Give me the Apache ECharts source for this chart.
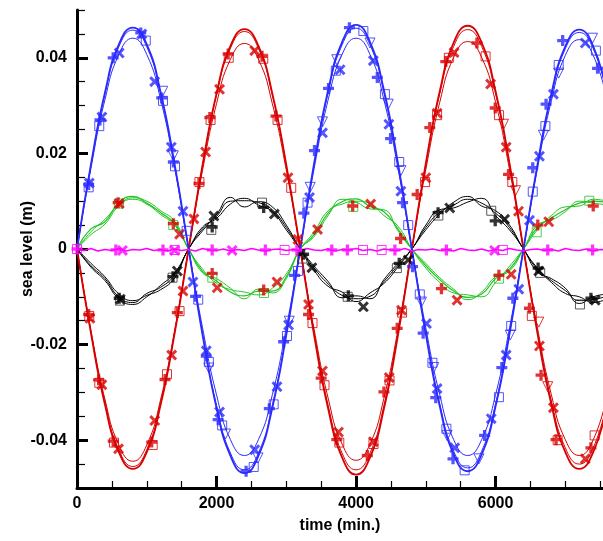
<!DOCTYPE html>
<html><head><meta charset="utf-8">
<script src="https://cdn.jsdelivr.net/npm/echarts@6/dist/echarts.min.js"></script>
<style>html,body{margin:0;padding:0;background:#fff}#c{width:603px;height:541px}</style>
</head><body><div id="c"></div>
<script>
// ---- time grids (minutes) ----
const TIME = [0,200,400,600,800,1000,1200,1400,1600,1800,2000,2200,2400,2600,2800,3000,3200,3400,3600,3800,
  4000,4200,4400,4600,4800,5000,5200,5400,5600,5800,6000,6200,6400,6600,6800,7000,7200,7400,7600];
const TIME_FINE = [0,100,200,300,400,500,600,700,800,900,1000,
  1100,1200,1300,1400,1500,1600,1700,1800,1900,2000,2100,
  2200,2300,2400,2500,2600,2700,2800,2900,3000,3100,3200,
  3300,3400,3500,3600,3700,3800,3900,4000,4100,4200,4300,
  4400,4500,4600,4700,4800,4900,5000,5100,5200,5300,5400,
  5500,5600,5700,5800,5900,6000,6100,6200,6300,6400,6500,
  6600,6700,6800,6900,7000,7100,7200,7300,7400,7500,7600];

// ---- blue curves ----
const BLUE_1 = [0,.0177,.0327,.0428,.0463,.0428,.0327,.0177, 0,-.0180,-.0332,-.0433,-.0469,-.0433,-.0332,-.0180,
  0,.0180,.0332,.0433,.0469,.0433,.0332,.0180, 0,-.0178,-.0329,-.0430,-.0465,-.0430,-.0329,-.0178, 0,.0176,.0325,.0424,.0459,.0424,.0325];
const BLUE_2 = [0,.0169,.0312,.0407,.0441,.0407,.0312,.0169, 0,-.0165,-.0305,-.0399,-.0432,-.0399,-.0305,-.0165,
  0,.0169,.0312,.0407,.0441,.0407,.0312,.0169, 0,-.0165,-.0305,-.0399,-.0432,-.0399,-.0305,-.0165, 0,.0168,.0310,.0405,.0438,.0405,.0310];
const BLUE_3 = [0,.0175,.0324,.0423,.0458,.0423,.0324,.0175, 0,-.0177,-.0327,-.0427,-.0462,-.0427,-.0327,-.0177,
  0,.0177,.0327,.0427,.0462,.0427,.0327,.0177, 0,-.0175,-.0324,-.0423,-.0458,-.0423,-.0324,-.0175, 0,.0173,.0320,.0419,.0453,.0419,.0320];
// ---- red curves ----
const RED_1 = [0,-.0176,-.0325,-.0425,-.0460,-.0425,-.0325,-.0176, 0,.0176,.0325,.0425,.0460,.0425,.0325,.0176,
  0,-.0181,-.0334,-.0436,-.0472,-.0436,-.0334,-.0181, 0,.0179,.0330,.0432,.0467,.0432,.0330,.0179, 0,-.0176,-.0325,-.0425,-.0460,-.0425,-.0325];
const RED_2 = [0,-.0170,-.0314,-.0410,-.0444,-.0410,-.0314,-.0170, 0,.0165,.0304,.0397,.0430,.0397,.0304,.0165,
  0,-.0169,-.0312,-.0408,-.0442,-.0408,-.0312,-.0169, 0,.0166,.0307,.0401,.0434,.0401,.0307,.0166, 0,-.0165,-.0305,-.0399,-.0432,-.0399,-.0305];
const RED_3 = [0,-.0174,-.0322,-.0420,-.0455,-.0420,-.0322,-.0174, 0,.0174,.0322,.0420,.0455,.0420,.0322,.0174,
  0,-.0177,-.0327,-.0427,-.0462,-.0427,-.0327,-.0177, 0,.0176,.0325,.0424,.0459,.0424,.0325,.0176, 0,-.0172,-.0318,-.0416,-.0450,-.0416,-.0318];
// ---- black curves ----
const BLACK_1 = [0,-.0035,-.0062,-.0100,-.0112,-.0093,-.0080,-.0054, 0,.0042,.0068,.0100,.0101,.0097,.0082,.0045,
  0,-.0040,-.0073,-.0097,-.0104,-.0099,-.0068,-.0034, 0,.0045,.0077,.0092,.0104,.0096,.0075,.0045, 0,-.0043,-.0066,-.0087,-.0108,-.0106,-.0098];
const BLACK_2 = [0,-.0030,-.0058,-.0094,-.0108,-.0097,-.0085,-.0060, 0,.0038,.0072,.0108,.0088,.0099,.0088,.0050,
  0,-.0045,-.0078,-.0090,-.0110,-.0092,-.0072,-.0038, 0,.0040,.0073,.0098,.0110,.0090,.0080,.0050, 0,-.0040,-.0070,-.0093,-.0100,-.0112,-.0104];
const BLACK_3 = [0,-.0038,-.0066,-.0104,-.0116,-.0100,-.0076,-.0050, 0,.0046,.0064,.0094,.0106,.0092,.0078,.0040,
  0,-.0036,-.0068,-.0102,-.0098,-.0104,-.0064,-.0030, 0,.0050,.0082,.0086,.0098,.0106,.0070,.0040, 0,-.0048,-.0062,-.0082,-.0114,-.0100,-.0094];
// ---- green curves ----
const GREEN_1 = [0,.0042,.0057,.0097,.0110,.0096,.0076,.0053, 0,-.0047,-.0067,-.0090,-.0098,-.0088,-.0088,-.0058,
  0,.0030,.0075,.0099,.0105,.0089,.0078,.0042, 0,-.0035,-.0064,-.0088,-.0101,-.0094,-.0062,-.0042, 0,.0045,.0065,.0082,.0096,.0100,.0097];
const GREEN_2 = [0,.0036,.0062,.0092,.0107,.0100,.0080,.0058, 0,-.0042,-.0072,-.0085,-.0090,-.0096,-.0082,-.0052,
  0,.0036,.0080,.0094,.0100,.0095,.0070,.0048, 0,-.0040,-.0070,-.0092,-.0096,-.0100,-.0070,-.0036, 0,.0040,.0070,.0088,.0090,.0104,.0100];
const GREEN_3 = [0,.0030,.0052,.0090,.0104,.0094,.0072,.0050, 0,-.0050,-.0062,-.0082,-.0104,-.0084,-.0092,-.0062,
  0,.0026,.0070,.0104,.0098,.0084,.0082,.0038, 0,-.0030,-.0060,-.0084,-.0106,-.0090,-.0058,-.0046, 0,.0050,.0060,.0078,.0100,.0096,.0092];
// ---- magenta curve ----
const MAGENTA = [0.0000,-0.0003,0.0001,-0.0004,-0.0001,-0.0003,0.0001,-0.0004,-0.0001,-0.0002,0.0001,
  -0.0003,-0.0001,-0.0004,0.0000,-0.0003,-0.0001,-0.0004,0.0001,-0.0002,-0.0003,0.0000,
  -0.0004,-0.0001,-0.0003,0.0001,-0.0002,-0.0004,-0.0001,0.0000,-0.0003,-0.0001,-0.0004,
  0.0001,-0.0002,-0.0003,0.0000,-0.0004,-0.0001,-0.0002,0.0001,-0.0003,-0.0001,-0.0004,
  0.0000,-0.0002,-0.0003,0.0001,-0.0004,-0.0001,-0.0002,0.0000,-0.0003,-0.0001,-0.0004,
  0.0001,-0.0002,-0.0003,0.0000,-0.0004,-0.0001,-0.0003,0.0001,-0.0002,-0.0004,-0.0001,
  0.0000,-0.0003,-0.0001,-0.0004,0.0001,-0.0002,-0.0003,0.0000,-0.0004,-0.0001,-0.0002];

// ---- markers ----
const BLUE_PLUS_T = [167,329,519,914,1214,1381,1700,1853,2024,2424,2757,2962,3119,3252,3405,3605,3905,4305,4495,4667,4810,4962,5143,5390,5843,6090,6248,6533,6724,6962,7462];
const BLUE_PLUS_V = [0.0135,0.0270,0.0400,0.0452,0.0316,0.0182,-0.0099,-0.0224,-0.0357,-0.0465,-0.0334,-0.0194,-0.0055,0.0075,0.0206,0.0336,0.0463,0.0359,0.0231,0.0097,-0.0037,-0.0176,-0.0311,-0.0439,-0.0390,-0.0248,-0.0103,0.0170,0.0303,0.0436,0.0378];
const BLUE_X_T = [176,357,605,929,1114,1352,1519,1662,1853,2043,2548,2867,3033,3333,3519,3771,4248,4471,4643,5010,5162,5414,5938,6152,6333,6486,6629,6829,7286];
const BLUE_X_V = [0.0138,0.0276,0.0410,0.0450,0.0350,0.0213,0.0079,-0.0069,-0.0213,-0.0341,-0.0420,-0.0288,-0.0159,0.0108,0.0243,0.0375,0.0394,0.0261,0.0121,-0.0156,-0.0292,-0.0416,-0.0355,-0.0222,-0.0084,0.0060,0.0194,0.0324,0.0431];
const BLUE_SQ_T = [167,319,986,1233,1405,1571,1738,1890,2081,2533,2819,3010,3167,3305,3710,4105,4414,4619,4748,4914,5095,5295,5557,6048,6224,6533,6714,6905,7438];
const BLUE_SQ_V = [0.0129,0.0257,0.0436,0.0310,0.0173,0.0038,-0.0106,-0.0236,-0.0369,-0.0456,-0.0325,-0.0182,-0.0046,0.0097,0.0373,0.0456,0.0324,0.0182,0.0050,-0.0095,-0.0238,-0.0376,-0.0463,-0.0310,-0.0161,0.0120,0.0257,0.0385,0.0415];
const BLUE_TRI_T = [1229,1381,1890,2129,2595,3043,3343,3519,3724,4200,4462,4643,4938,5114,5305,5762,6210,6686,6905,7390];
const BLUE_TRI_V = [0.0330,0.0195,-0.0249,-0.0387,-0.0437,-0.0151,0.0129,0.0266,0.0396,0.0431,0.0303,0.0164,-0.0111,-0.0248,-0.0390,-0.0439,-0.0180,0.0238,0.0368,0.0441];

const RED_PLUS_T = [167,310,519,590,1071,1262,1381,1438,1748,1905,1938,2167,2652,2676,2852,3319,3500,3724,3952,4162,4400,4590,4638,4876,5057,5224,5286,5733,5995,6048,6186,6486,6605,6652,6867,7367,7400];
const RED_PLUS_V = [-0.0137,-0.0274,-0.0402,0.0097,-0.0404,-0.0273,0.0053,-0.0133,0.0137,0.0275,-0.0051,0.0408,0.0403,-0.0086,0.0278,-0.0137,-0.0270,-0.0399,0.0090,-0.0432,-0.0299,-0.0166,0.0022,0.0114,0.0254,-0.0083,0.0392,0.0431,0.0295,-0.0055,0.0156,-0.0124,0.0050,-0.0264,-0.0399,-0.0416,0.0090];
const RED_X_T = [186,357,595,605,1114,1357,1471,1519,1676,1843,2010,2043,2548,2867,3024,3167,3319,3448,3519,3748,4210,4248,4476,4652,5000,5162,5405,5448,5929,6152,6224,6329,6629,6762,6829,7286];
const RED_X_V = [-0.0145,-0.0284,-0.0418,0.0095,-0.0359,-0.0222,0.0031,-0.0088,0.0063,0.0203,-0.0081,0.0334,0.0415,-0.0069,0.0149,0.0020,-0.0116,0.0041,-0.0255,-0.0383,0.0094,-0.0403,-0.0269,-0.0128,0.0149,0.0284,0.0411,-0.0107,0.0345,0.0213,-0.0053,0.0079,-0.0203,0.0057,-0.0332,-0.0439];
const RED_SQ_T = [176,320,530,1085,1290,1470,1755,1915,2175,2670,2875,3071,3376,3548,3760,4250,4480,4660,4990,5162,5330,5857,6050,6240,6520,6890,7420];
const RED_SQ_V = [-0.0140,-0.0280,-0.0405,-0.0410,-0.0262,-0.0130,0.0140,0.0270,0.0400,0.0398,0.0270,0.0128,-0.0155,-0.0285,-0.0405,-0.0408,-0.0275,-0.0133,0.0140,0.0280,0.0400,0.0403,0.0280,0.0140,-0.0140,-0.0400,-0.0390];
const RED_TRI_T = [6114,6286,6619,6748];
const RED_TRI_V = [0.0261,0.0122,-0.0153,-0.0288];

const GREEN_SQ_T = [600,1380,1940,2680,3960,6050,6590,7343];
const GREEN_SQ_V = [0.0095,0.0050,-0.0060,-0.0092,0.0088,-0.0062,0.0035,0.0101];

const BLACK_PLUS_T = [605,1376,1938,2676,3248,3890,4619,5176,5995,6610,7367];
const BLACK_PLUS_V = [-0.0103,-0.0058,0.0046,0.0087,-0.0011,-0.0098,-0.0030,0.0076,0.0059,-0.0040,-0.0103];
const BLACK_X_T = [620,1438,1962,2829,3367,4105,4748,5343,6129,6619,7429];
const BLACK_X_V = [-0.0105,-0.0046,0.0069,0.0073,-0.0039,-0.0121,-0.0023,0.0086,0.0062,-0.0046,-0.0107];
const BLACK_SQ_T = [615,1370,1925,2652,3230,3880,4585,5180,5938,6640,7210];
const BLACK_SQ_V = [-0.0108,-0.0060,0.0040,0.0097,-0.0020,-0.0100,-0.0040,0.0070,0.0080,-0.0050,-0.0116];

const MAG_PLUS_T = [0,557,1233,1938,2700,3152,3652,3876,4557,5295,6748,7390];
const MAG_PLUS_V = [0,-0.0002,-0.0002,-0.0002,-0.0002,-0.0002,-0.0002,-0.0002,-0.0002,-0.0002,-0.0002,-0.0002];
const MAG_X_T = [652,1400,2224,5986];
const MAG_X_V = [-0.0003,-0.0003,-0.0003,-0.0003];
const MAG_SQ_T = [0,1400,2976,4100,4367,6105];
const MAG_SQ_V = [0,-0.0002,-0.0002,-0.0002,-0.0002,-0.0002];

// ---- ticks / labels ----
const X_MAJOR = [0, 2000, 4000, 6000];
const Y_MAJOR = [-0.04, -0.02, 0, 0.02, 0.04];

// ---------------- drawing ----------------
const C_BLUE = '#2b2bff', C_RED = '#d80000', C_GREEN = '#22c422', C_BLACK = '#000000', C_MAG = '#ff00ff';
const FONT = 'Liberation Sans';
const PLUS = 'path://M3.5,0H6.5V3.5H10V6.5H6.5V10H3.5V6.5H0V3.5H3.5Z';
const CROSS = 'path://M0,1.9L1.9,0L5,3.1L8.1,0L10,1.9L6.9,5L10,8.1L8.1,10L5,6.9L1.9,10L0,8.1L3.1,5Z';

function pairs(t, v) { return t.map((x, i) => [x, v[i]]); }
function line(t, v, color, w) {
  return { type: 'line', xAxisIndex: 0, yAxisIndex: 0, data: pairs(t, v), showSymbol: false, smooth: true,
    lineStyle: { color: color, width: w }, silent: true, animation: false };
}
function mark(t, v, color, kind) {
  const s = { type: 'scatter', xAxisIndex: 0, yAxisIndex: 0, data: pairs(t, v), silent: true, animation: false, z: 5 };
  if (kind === 'plus') { s.symbol = PLUS; s.symbolSize = 11; s.itemStyle = { color: color }; }
  else if (kind === 'x') { s.symbol = CROSS; s.symbolSize = 11; s.itemStyle = { color: color }; }
  else if (kind === 'sq') { s.symbol = 'rect'; s.symbolSize = 9; s.itemStyle = { color: 'rgba(0,0,0,0)', borderColor: color, borderWidth: 1 }; }
  else { s.symbol = 'triangle'; s.symbolRotate = 180; s.symbolSize = 10; s.itemStyle = { color: 'rgba(0,0,0,0)', borderColor: color, borderWidth: 1 }; }
  return s;
}

const PX_PER_MIN = 526 / 7540;
const labelStyle = { fontSize: 16, fontWeight: 'bold', color: '#000', fontFamily: FONT };

const option = {
  backgroundColor: '#fff',
  animation: false,
  grid: [
    { left: 77, top: 10, width: 526, height: 478 },
    { left: 77, top: 10 + 478 * 0.01 / 0.1, width: 526, height: 478 * 0.08 / 0.1 },
    { left: 77, top: 10, width: 7500 * PX_PER_MIN, height: 478 },
    { left: 77, top: 10, width: X_MAJOR[X_MAJOR.length - 1] * PX_PER_MIN, height: 478 }
  ],
  xAxis: [
    { gridIndex: 0, type: 'value', min: 0, max: 7540, axisLine: { onZero: false, lineStyle: { color: '#000', width: 3 } },
      axisTick: { show: false }, axisLabel: { show: false }, splitLine: { show: false },
      name: 'time (min.)', nameLocation: 'middle', nameGap: 30, nameTextStyle: labelStyle },
    { gridIndex: 1, type: 'value', min: 0, max: 1, show: false },
    { gridIndex: 2, type: 'value', min: 0, max: 7500, interval: 500, axisLine: { show: false, onZero: false },
      axisTick: { inside: true, length: 7, lineStyle: { color: '#000', width: 1.2 } }, axisLabel: { show: false }, splitLine: { show: false } },
    { gridIndex: 3, type: 'value', min: X_MAJOR[0], max: X_MAJOR[X_MAJOR.length - 1], interval: X_MAJOR[1] - X_MAJOR[0],
      axisLine: { show: false, onZero: false },
      axisTick: { inside: true, length: 12, lineStyle: { color: '#000', width: 3 } },
      axisLabel: Object.assign({ margin: 8, formatter: v => String(v) }, labelStyle), splitLine: { show: false } }
  ],
  yAxis: [
    { gridIndex: 0, type: 'value', min: -0.05, max: 0.05, interval: 0.005,
      axisLine: { onZero: false, lineStyle: { color: '#000', width: 3 } },
      axisTick: { inside: true, length: 8, lineStyle: { color: '#000', width: 1.2 } },
      axisLabel: { show: false }, splitLine: { show: false },
      name: 'sea level (m)', nameLocation: 'middle', nameGap: 41, nameRotate: 90, nameTextStyle: labelStyle },
    { gridIndex: 1, type: 'value', min: Y_MAJOR[0], max: Y_MAJOR[Y_MAJOR.length - 1], interval: Y_MAJOR[1] - Y_MAJOR[0],
      axisLine: { show: false, onZero: false },
      axisTick: { inside: true, length: 11, lineStyle: { color: '#000', width: 3 } },
      axisLabel: Object.assign({ margin: 10, formatter: v => String(Number(v.toFixed(4))) }, labelStyle),
      splitLine: { show: false } },
    { gridIndex: 2, type: 'value', min: 0, max: 1, show: false },
    { gridIndex: 3, type: 'value', min: 0, max: 1, show: false }
  ],
  series: [
    line(TIME, BLACK_1, C_BLACK, 1), line(TIME, BLACK_2, C_BLACK, 1), line(TIME, BLACK_3, C_BLACK, 1),
    line(TIME, GREEN_1, C_GREEN, 1.2), line(TIME, GREEN_2, C_GREEN, 1), line(TIME, GREEN_3, C_GREEN, 1),
    line(TIME, RED_2, C_RED, 1), line(TIME, RED_3, C_RED, 1), line(TIME, RED_1, C_RED, 1.8),
    line(TIME, BLUE_2, C_BLUE, 1), line(TIME, BLUE_3, C_BLUE, 1), line(TIME, BLUE_1, C_BLUE, 1.8),
    Object.assign(line(TIME_FINE, MAGENTA, C_MAG, 1.6), { smooth: false }),
    mark(GREEN_SQ_T, GREEN_SQ_V, C_GREEN, 'sq'),
    mark(BLACK_SQ_T, BLACK_SQ_V, '#333', 'sq'),
    mark(BLACK_PLUS_T, BLACK_PLUS_V, C_BLACK, 'plus'),
    mark(BLACK_X_T, BLACK_X_V, C_BLACK, 'x'),
    mark(RED_SQ_T, RED_SQ_V, C_RED, 'sq'),
    mark(RED_TRI_T, RED_TRI_V, C_RED, 'tri'),
    mark(RED_PLUS_T, RED_PLUS_V, C_RED, 'plus'),
    mark(RED_X_T, RED_X_V, C_RED, 'x'),
    mark(BLUE_SQ_T, BLUE_SQ_V, C_BLUE, 'sq'),
    mark(BLUE_TRI_T, BLUE_TRI_V, C_BLUE, 'tri'),
    mark(BLUE_PLUS_T, BLUE_PLUS_V, C_BLUE, 'plus'),
    mark(BLUE_X_T, BLUE_X_V, C_BLUE, 'x'),
    mark(MAG_SQ_T, MAG_SQ_V, C_MAG, 'sq'),
    mark(MAG_PLUS_T, MAG_PLUS_V, C_MAG, 'plus'),
    mark(MAG_X_T, MAG_X_V, C_MAG, 'x')
  ]
};
const chart = echarts.init(document.getElementById('c'), null, { renderer: 'canvas' });
chart.setOption(option);
</script>
</body></html>
